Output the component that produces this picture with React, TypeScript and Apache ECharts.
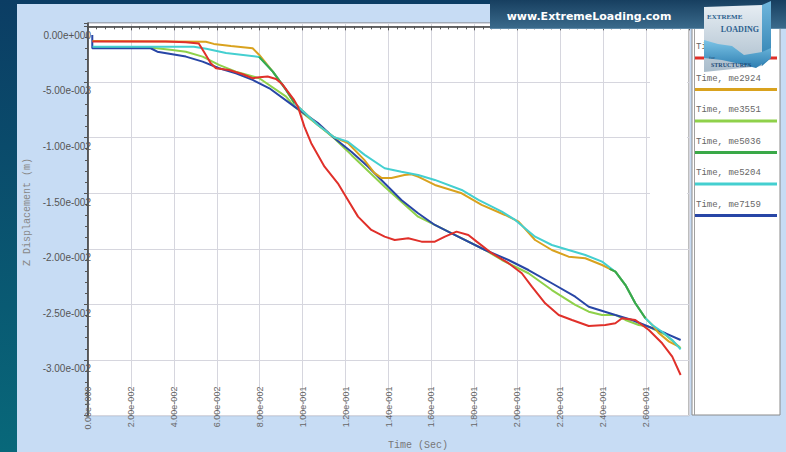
import React, { useEffect, useRef } from "react";
import * as echarts from "echarts";

const seriesNames = ["Time, me1023", "Time, me2924", "Time, me3551", "Time, me5036", "Time, me5204", "Time, me7159"];
const seriesColors = ["#e0302a", "#d9a21e", "#8fd14a", "#3aa948", "#44cfd0", "#2846a6"];

const redData = [[0.0021,-0.00136],[0.0362,-0.00136],[0.0456,-0.00143],[0.0516,-0.00154],[0.0540,-0.00228],[0.0572,-0.00332],[0.0596,-0.00377],[0.0657,-0.00392],[0.0721,-0.00431],[0.0767,-0.00467],[0.0798,-0.00458],[0.0837,-0.00451],[0.0876,-0.00473],[0.0904,-0.00518],[0.0931,-0.00587],[0.0960,-0.00662],[0.0978,-0.00722],[0.1008,-0.00902],[0.1040,-0.01051],[0.1102,-0.01262],[0.1164,-0.01411],[0.1211,-0.01561],[0.1258,-0.01711],[0.1320,-0.01831],[0.1382,-0.01891],[0.1429,-0.01921],[0.1492,-0.01906],[0.1554,-0.01936],[0.1616,-0.01936],[0.1663,-0.01891],[0.1717,-0.01846],[0.1772,-0.01876],[0.1811,-0.01936],[0.1881,-0.02040],[0.1959,-0.02130],[0.2021,-0.02220],[0.2068,-0.02341],[0.2130,-0.02490],[0.2193,-0.02595],[0.2255,-0.02640],[0.2333,-0.02694],[0.2410,-0.02685],[0.2457,-0.02670],[0.2488,-0.02625],[0.2550,-0.02640],[0.2613,-0.02730],[0.2675,-0.02850],[0.2722,-0.02970],[0.2761,-0.03135]];

const orangeData = [[0.0021,-0.00131],[0.0549,-0.00138],[0.0586,-0.00158],[0.0666,-0.00176],[0.0767,-0.00197],[0.0798,-0.00257],[0.0861,-0.00407],[0.0923,-0.00572],[0.0962,-0.00692],[0.1071,-0.00887],[0.1147,-0.00997],[0.1211,-0.01049],[0.1287,-0.01201],[0.1334,-0.01318],[0.1367,-0.01363],[0.1414,-0.01363],[0.1474,-0.01336],[0.1507,-0.01330],[0.1540,-0.01354],[0.1616,-0.01426],[0.1741,-0.01501],[0.1834,-0.01606],[0.1943,-0.01696],[0.2006,-0.01756],[0.2083,-0.01921],[0.2161,-0.02011],[0.2239,-0.02071],[0.2317,-0.02085],[0.2395,-0.02146],[0.2457,-0.02206],[0.2504,-0.02326],[0.2550,-0.02490],[0.2597,-0.02625],[0.2629,-0.02685],[0.2660,-0.02760],[0.2707,-0.02835],[0.2753,-0.02880]];

const yellowGreenData = [[0.0021,-0.00190],[0.0245,-0.00190],[0.0300,-0.00192],[0.0393,-0.00212],[0.0456,-0.00228],[0.0534,-0.00272],[0.0610,-0.00347],[0.0689,-0.00407],[0.0798,-0.00467],[0.0923,-0.00632],[0.0962,-0.00722],[0.1071,-0.00887],[0.1147,-0.01006],[0.1227,-0.01156],[0.1382,-0.01442],[0.1538,-0.01711],[0.1679,-0.01846],[0.1850,-0.02011],[0.1928,-0.02101],[0.2052,-0.02220],[0.2161,-0.02371],[0.2270,-0.02505],[0.2333,-0.02566],[0.2395,-0.02595],[0.2457,-0.02595],[0.2504,-0.02640],[0.2566,-0.02685],[0.2613,-0.02701],[0.2691,-0.02775],[0.2761,-0.02892]];

const greenEarlyData = [[0.0797,-0.00275],[0.0861,-0.00407],[0.0923,-0.00572],[0.0962,-0.00692]];
const greenLateData = [[0.2430,-0.02180],[0.2457,-0.02206],[0.2504,-0.02326],[0.2550,-0.02490],[0.2597,-0.02625]];

const cyanData = [[0.0021,-0.00183],[0.0493,-0.00183],[0.0551,-0.00201],[0.0643,-0.00239],[0.0797,-0.00275],[0.0861,-0.00407],[0.0923,-0.00572],[0.0962,-0.00692],[0.1071,-0.00887],[0.1147,-0.00997],[0.1211,-0.01037],[0.1289,-0.01156],[0.1382,-0.01276],[0.1460,-0.01307],[0.1538,-0.01336],[0.1616,-0.01381],[0.1741,-0.01471],[0.1819,-0.01561],[0.1928,-0.01666],[0.1990,-0.01741],[0.2083,-0.01891],[0.2161,-0.01966],[0.2239,-0.02011],[0.2317,-0.02056],[0.2395,-0.02116],[0.2457,-0.02206],[0.2504,-0.02326],[0.2550,-0.02490],[0.2597,-0.02625],[0.2629,-0.02685],[0.2675,-0.02746],[0.2722,-0.02820],[0.2761,-0.02904]];

const blueData = [[0.0020,-0.00077],[0.0020,-0.00197],[0.0292,-0.00197],[0.0323,-0.00228],[0.0393,-0.00251],[0.0456,-0.00272],[0.0534,-0.00317],[0.0611,-0.00377],[0.0689,-0.00422],[0.0767,-0.00482],[0.0845,-0.00557],[0.0962,-0.00722],[0.1071,-0.00869],[0.1147,-0.01004],[0.1227,-0.01127],[0.1305,-0.01262],[0.1382,-0.01411],[0.1460,-0.01561],[0.1538,-0.01681],[0.1616,-0.01786],[0.1694,-0.01861],[0.1850,-0.02011],[0.1959,-0.02101],[0.2052,-0.02191],[0.2161,-0.02310],[0.2270,-0.02431],[0.2333,-0.02521],[0.2457,-0.02595],[0.2535,-0.02640],[0.2613,-0.02701],[0.2691,-0.02760],[0.2761,-0.02820]];

const X_MIN = 0, X_MAX = 0.28, X_STEP = 0.02;
const Y_MIN = -0.035, Y_MAX = 0.0003, Y_STEP = 0.005;

function sci(v: number): string {
  if (Math.abs(v) < 1e-12) return "0.00e+000";
  const s = v.toExponential(2);
  const [m, e] = s.split("e");
  const n = parseInt(e, 10);
  return m + "e" + (n < 0 ? "-" : "+") + String(Math.abs(n)).padStart(3, "0");
}

export default function App() {
  const ref = useRef<HTMLDivElement>(null);
  useEffect(() => {
    document.body.style.margin = "0";
    if (!ref.current) return;
    const chart = echarts.init(ref.current, null, { renderer: "svg" });
    const lg = (a: string, b: string, horiz = false) =>
      new echarts.graphic.LinearGradient(0, 0, horiz ? 1 : 0, horiz ? 0 : 1, [
        { offset: 0, color: a },
        { offset: 1, color: b },
      ]);

    const legendEls: any[] = [];
    seriesNames.forEach((name, i) => {
      const ty = 47 + i * 31.5;
      legendEls.push({
        type: "text", x: 696, y: ty, z: 12,
        style: { text: name, fill: "#666", fontSize: 9, fontFamily: "Liberation Mono, monospace", align: "left", verticalAlign: "middle" },
      });
      legendEls.push({
        type: "line", z: 12,
        shape: { x1: 695, y1: ty + 11, x2: 777, y2: ty + 11 },
        style: { stroke: seriesColors[i], lineWidth: 3 },
      });
    });

    const lineSeries = (name: string, data: number[][], color: string) => ({
      type: "line", name, data, showSymbol: false, symbol: "none", smooth: false,
      lineStyle: { color, width: 2 }, itemStyle: { color }, animation: false,
    });

    chart.setOption({
      animation: false,
      grid: { left: 88, top: 23, width: 601, height: 392.6, show: true, backgroundColor: "#ffffff", borderColor: "#7a7a7a", borderWidth: 1 },
      xAxis: {
        type: "value", min: X_MIN, max: X_MAX, interval: X_STEP,
        axisLine: { show: true, lineStyle: { color: "#3a3a3a", width: 1.5 } },
        axisTick: { show: true, length: 4, lineStyle: { color: "#555" } },
        minorTick: { show: true, splitNumber: 5, length: 3, lineStyle: { color: "#555" } },
        splitLine: { show: true, lineStyle: { color: "#d6d6de", width: 1 } },
        axisLabel: {
          rotate: 90, margin: -29, fontSize: 9, color: "#666", fontFamily: "Liberation Sans, Arial, sans-serif",
          formatter: (v: number) => (v > X_MAX - X_STEP / 2 ? "" : sci(v)),
        },
      },
      yAxis: {
        type: "value", min: Y_MIN, max: Y_MAX, interval: Y_STEP,
        axisLine: { show: true, lineStyle: { color: "#3a3a3a", width: 1.5 } },
        axisTick: { show: true, length: 4, lineStyle: { color: "#555" } },
        minorTick: { show: true, splitNumber: 5, length: 3, lineStyle: { color: "#555" } },
        splitLine: { show: true, lineStyle: { color: "#d6d6de", width: 1 } },
        axisLabel: {
          margin: -3, fontSize: 10, color: "#555", fontFamily: "Liberation Sans, Arial, sans-serif",
          verticalAlign: "top", padding: [4, 0, 0, 0],
          formatter: (v: number) => (v < Y_MIN + Y_STEP / 2 ? "" : sci(v)),
        },
      },
      series: [
        lineSeries(seriesNames[2], yellowGreenData, seriesColors[2]),
        lineSeries(seriesNames[5], blueData, seriesColors[5]),
        lineSeries(seriesNames[1], orangeData, seriesColors[1]),
        lineSeries(seriesNames[4], cyanData, seriesColors[4]),
        lineSeries(seriesNames[3], greenEarlyData, seriesColors[3]),
        lineSeries(seriesNames[3], greenLateData, seriesColors[3]),
        lineSeries(seriesNames[0], redData, seriesColors[0]),
      ],
      graphic: [
        { type: "rect", z: -20, shape: { x: 0, y: 0, width: 786, height: 452 }, style: { fill: lg("#0b3d64", "#08687a") } },
        { type: "rect", z: -19, shape: { x: 17, y: 4, width: 769, height: 448 }, style: { fill: "#c7dcf4" } },
        { type: "rect", z: 1, shape: { x: 650, y: 30, width: 37, height: 170 }, style: { fill: "#ffffff" } },
        { type: "text", x: 418, y: 445, z: 5, style: { text: "Time (Sec)", fill: "#777", fontSize: 10, fontFamily: "Liberation Mono, monospace", align: "center", verticalAlign: "middle" } },
        { type: "text", x: 27, y: 212, rotation: Math.PI / 2, z: 5, style: { text: "Z Displacement (m)", fill: "#888", fontSize: 10, fontFamily: "Liberation Mono, monospace", align: "center", verticalAlign: "middle" } },
        // legend box
        { type: "rect", z: 10, shape: { x: 692, y: 28, width: 88, height: 387 }, style: { fill: "#ffffff", stroke: "#8a8a8a", lineWidth: 1 } },
        { type: "line", z: 11, shape: { x1: 694.5, y1: 28, x2: 694.5, y2: 415 }, style: { stroke: "#a0a0a0", lineWidth: 1 } },
        ...legendEls,
        // banner
        { type: "rect", z: 15, shape: { x: 490, y: 0, width: 296, height: 29 }, style: { fill: lg("#173f60", "#3b6b8c") } },
        { type: "line", z: 16, shape: { x1: 490, y1: 28.5, x2: 786, y2: 28.5 }, style: { stroke: "#5f8aa8", lineWidth: 1 } },
        { type: "text", x: 589, y: 16, z: 16, style: { text: "www.ExtremeLoading.com", fill: "#ffffff", fontSize: 11, fontWeight: "bold", fontFamily: "DejaVu Sans, sans-serif", align: "center", verticalAlign: "middle" } },
        // logo
        { type: "polygon", z: 20, shape: { points: [[762, 5], [771, 1], [771, 58], [762, 66]] }, style: { fill: lg("#6fb6dc", "#2d7fb0") } },
        { type: "polygon", z: 20, shape: { points: [[704, 7], [762, 5], [762, 66], [704, 72]] }, style: { fill: lg("#e6edf3", "#a9bccb") } },
        { type: "polygon", z: 21, shape: { points: [[704, 40], [718, 44], [732, 46], [744, 55], [762, 52], [771, 48], [771, 58], [756, 68], [740, 64], [722, 60], [704, 58]] }, style: { fill: lg("#7cc4e6", "#2f7fb2") } },
        { type: "text", x: 707, y: 17, z: 22, style: { text: "EXTREME", fill: "#2c5f8e", fontSize: 7, fontWeight: "bold", fontFamily: "Liberation Serif, serif", align: "left", verticalAlign: "middle" } },
        { type: "text", x: 759, y: 29, z: 22, style: { text: "LOADING", fill: "#2c5f8e", fontSize: 8, fontWeight: "bold", fontFamily: "Liberation Serif, serif", align: "right", verticalAlign: "middle" } },
        { type: "text", x: 709, y: 57, z: 22, style: { text: "for", fill: "#1e4c78", fontSize: 5, fontFamily: "Liberation Serif, serif", align: "left", verticalAlign: "middle" } },
        { type: "text", x: 711, y: 65, z: 22, style: { text: "STRUCTURES", fill: "#1e4c78", fontSize: 6, fontWeight: "bold", fontFamily: "Liberation Serif, serif", align: "left", verticalAlign: "middle" } },
      ],
    });
    return () => chart.dispose();
  }, []);
  return <div ref={ref} style={{ width: 786, height: 452 }} />;
}
